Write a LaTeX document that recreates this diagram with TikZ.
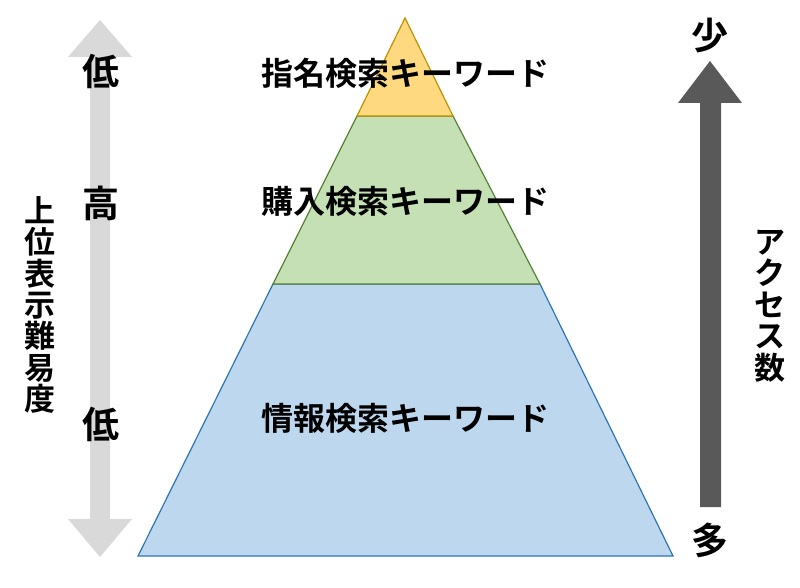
\documentclass[tikz,border=0pt]{standalone}
\usepackage{fontspec}
\setmainfont{Noto Sans CJK JP}
\newfontfamily\jpb{Noto Sans CJK JP Bold}
\definecolor{yfill}{HTML}{FFD97F}
\definecolor{ydraw}{HTML}{BF9000}
\definecolor{gfill}{HTML}{C5E0B4}
\definecolor{gdraw}{HTML}{548235}
\definecolor{bfill}{HTML}{BDD7EE}
\definecolor{bdraw}{HTML}{2E75B6}
\definecolor{lgrey}{HTML}{D9D9D9}
\definecolor{dgrey}{HTML}{595959}
\tikzset{
  lbl/.style={font=\jpb\fontsize{32}{34}\selectfont, inner sep=0pt, anchor=center},
  big/.style={font=\jpb\fontsize{37}{39}\selectfont, inner sep=0pt, anchor=center},
  vlbl/.style={font=\jpb\fontsize{31}{31.4}\selectfont, inner sep=0pt, align=center},
  tier/.style={line width=1.2pt, line join=miter}
}
\begin{document}
\begin{tikzpicture}[x=1pt,y=-1pt]
\useasboundingbox (0,0) rectangle (800,588);
\fill[white] (0,0) rectangle (800,588);
% pyramid
\filldraw[tier, fill=bfill, draw=bdraw] (273,284) -- (540,284) -- (673,556) -- (138,556) -- cycle;
\filldraw[tier, fill=gfill, draw=gdraw] (357,116) -- (453,116) -- (540,284) -- (273,284) -- cycle;
\filldraw[tier, fill=yfill, draw=ydraw] (405,18) -- (453,116) -- (357,116) -- cycle;
% left grey double arrow
\fill[lgrey] (100,20) -- (132,57) -- (110,57) -- (110,519) -- (132,519) -- (100,557) -- (68,519) -- (90,519) -- (90,57) -- (68,57) -- cycle;
% right dark arrow
\fill[dgrey] (710,61) -- (742,103) -- (721,103) -- (721,507) -- (700,507) -- (700,103) -- (678,103) -- cycle;
% labels
\node[lbl] (t1) at (405,73) {指名検索キーワード};
\node[lbl] (t2) at (405,201) {購入検索キーワード};
\node[lbl] (t3) at (405,418) {情報検索キーワード};
\node[big] (l1) at (101,71) {低};
\node[big] (l2) at (101,203) {高};
\node[big] (l3) at (101,424) {低};
\node[big] (few) at (710,36) {少};
\node[big] (many) at (710,540) {多};
\node[vlbl] (vl) at (40,305) {上\\位\\表\\示\\難\\易\\度};
\node[vlbl] (vr) at (770,306) {ア\\ク\\セ\\ス\\数};
\end{tikzpicture}
\end{document}
